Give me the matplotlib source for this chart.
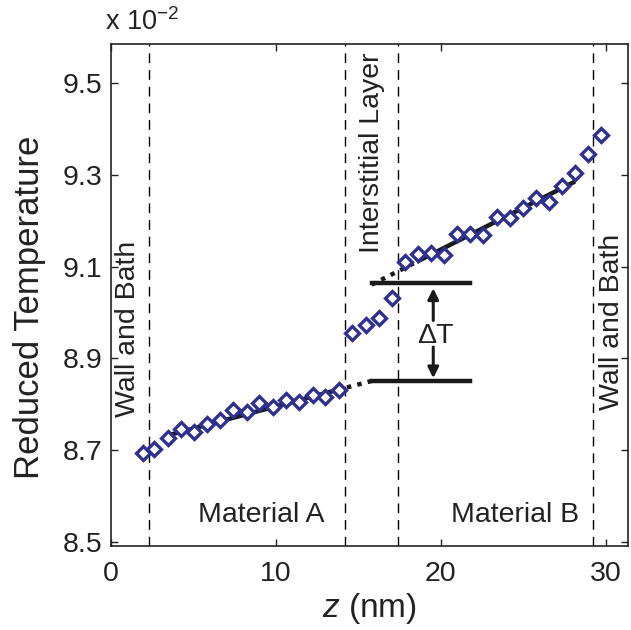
import matplotlib
matplotlib.use("Agg")
import matplotlib.pyplot as plt
import numpy as np

plt.rcParams['font.family'] = ['Liberation Sans', 'DejaVu Sans']
plt.rcParams['mathtext.fontset'] = 'custom'
plt.rcParams['mathtext.it'] = 'Liberation Sans:italic'
plt.rcParams['mathtext.rm'] = 'Liberation Sans'

# data (reduced temperature in units of 1e-2)
z_nm = [1.95, 2.65, 3.50, 4.27, 5.05, 5.86, 6.63, 7.43, 8.24, 9.01, 9.82, 10.62,
        11.43, 12.24, 12.98, 13.85,
        14.65, 15.44, 16.23, 17.03, 17.82, 18.61, 19.41, 20.20, 20.99, 21.79,
        22.58, 23.37, 24.16, 24.96, 25.75, 26.54, 27.34, 28.13, 28.92, 29.72]
temp = [8.694, 8.702, 8.726, 8.747, 8.740, 8.758, 8.765, 8.787, 8.784, 8.802,
        8.794, 8.809, 8.805, 8.820, 8.816, 8.832,
        8.956, 8.973, 8.989, 9.031, 9.110, 9.128, 9.130, 9.125, 9.171, 9.171,
        9.169, 9.208, 9.206, 9.228, 9.249, 9.242, 9.276, 9.304, 9.347, 9.387]

fitA_z = [3.54, 13.69]
fitA_t = [8.733, 8.831]
extA_z = [13.69, 15.81]
extA_t = [8.831, 8.851]
fitB_z = [18.54, 28.12]
fitB_t = [9.111, 9.286]
extB_z = [15.81, 18.54]
extB_t = [9.061, 9.111]
lvl_z = [15.81, 21.76]
lvl_low = 8.851
lvl_high = 9.064

boundaries = [2.35, 14.2, 17.42, 29.22]

xticks = [0, 10, 20, 30]
yticks = [8.5, 8.7, 8.9, 9.1, 9.3, 9.5]
ytick_labels = ['8.5', '8.7', '8.9', '9.1', '9.3', '9.5']

TXT = '#222222'
W, H = 631, 630
fig = plt.figure(figsize=(W / 100, H / 100), dpi=100)
ax = fig.add_axes([110.5 / W, 1 - 546 / H, (628 - 110.5) / W, (546 - 44) / H])
ax.set_xlim(0, 31.33)
ax.set_ylim(8.491, 9.586)

for b in boundaries:
    ax.axvline(b, color='black', lw=1.0, ls=(0, (7, 5)), zorder=1)

ax.plot(fitA_z, fitA_t, color='#1a1a1a', lw=3.2, solid_capstyle='butt', zorder=3)
ax.plot(extA_z, extA_t, color='#1a1a1a', lw=3.2, ls=(0, (1, 1.4)), zorder=3)
ax.plot(fitB_z, fitB_t, color='#1a1a1a', lw=3.2, solid_capstyle='butt', zorder=3)
ax.plot(extB_z, extB_t, color='#1a1a1a', lw=3.2, ls=(0, (1, 1.4)), zorder=3)
ax.plot(lvl_z, [lvl_low, lvl_low], color='#1a1a1a', lw=3.2, zorder=3)
ax.plot(lvl_z, [lvl_high, lvl_high], color='#1a1a1a', lw=3.2, zorder=3)

ax.plot(z_nm, temp, ls='none', marker='D', ms=7.4, mew=2.4, mfc='white',
        mec='#2E3092', zorder=4)

# delta T arrows
ax.annotate('', xy=(19.54, 9.053), xytext=(19.54, 8.983),
            arrowprops=dict(arrowstyle='-|>', color='#1a1a1a', lw=2.2,
                            mutation_scale=16, shrinkA=0, shrinkB=0))
ax.annotate('', xy=(19.54, 8.857), xytext=(19.54, 8.925),
            arrowprops=dict(arrowstyle='-|>', color='#1a1a1a', lw=2.2,
                            mutation_scale=16, shrinkA=0, shrinkB=0))
ax.text(19.64, 8.950, 'ΔT', fontsize=20.5, ha='center', va='center', color=TXT)

ax.text(1.05, 8.965, 'Wall and Bath', rotation=90, fontsize=20.5, ha='center',
        va='center', color=TXT)
ax.text(30.36, 8.979, 'Wall and Bath', rotation=90, fontsize=20.5, ha='center',
        va='center', color=TXT)
ax.text(15.83, 9.130, 'Interstitial Layer', rotation=90, fontsize=20.5, ha='center',
        va='bottom', color=TXT, clip_on=False)
ax.text(9.14, 8.558, 'Material A', fontsize=20.5, ha='center', va='center', color=TXT)
ax.text(24.5, 8.558, 'Material B', fontsize=20.5, ha='center', va='center', color=TXT)

ax.set_xticks(xticks)
ax.set_yticks(yticks)
ax.set_yticklabels(ytick_labels)
ax.tick_params(direction='in', length=5, width=1, top=True, right=True,
               labelsize=20.5, colors=TXT, pad=6)
ax.tick_params(axis='x', pad=11)
for s in ax.spines.values():
    s.set_linewidth(1.2)
    s.set_color(TXT)

ax.set_xlabel('$z$ (nm)', fontsize=24, color=TXT, labelpad=3)
ax.set_ylabel('Reduced Temperature', fontsize=25, color=TXT)
ax.yaxis.set_label_coords(-0.124, 0.476)
fig.text(105 / W, 1 - 22 / H, 'x 10$^{\\mathregular{-2}}$', fontsize=19.5, ha='left',
         va='center', color=TXT)

fig.savefig('out.png', dpi=100)
